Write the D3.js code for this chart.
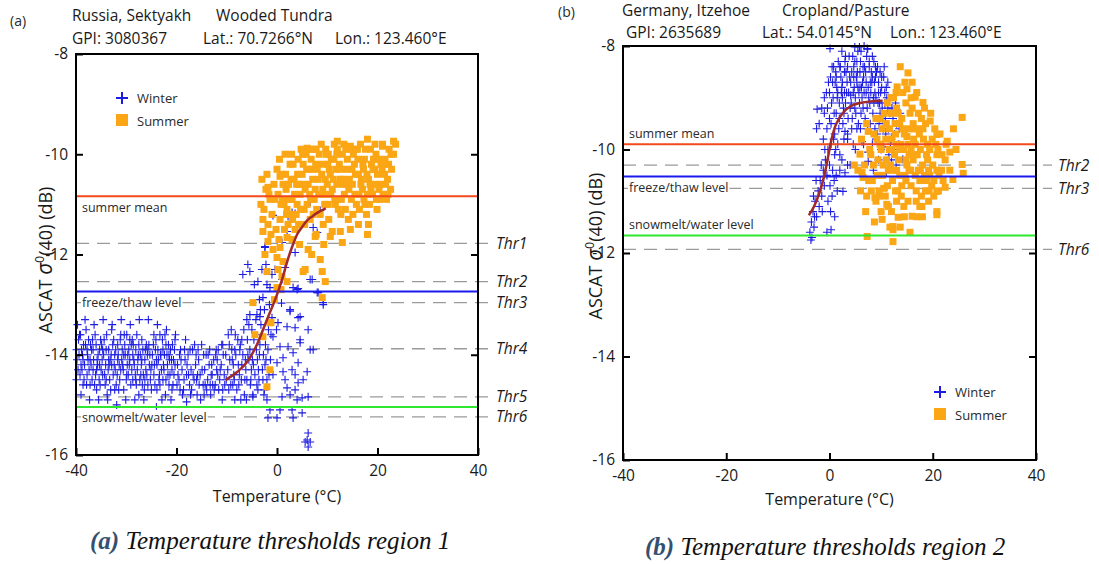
<!DOCTYPE html>
<html>
<head>
<meta charset="utf-8">
<script src="https://cdn.jsdelivr.net/npm/d3@7"></script>
<style>
  body { margin: 0; background: #fff; }
  svg { display: block; font-family: "Open Sans", "Noto Sans", sans-serif; }
</style>
</head>
<body>
<svg id="chart" width="1099" height="564"></svg>
<script>
// ---- data ----
const xTicks = [-40, -20, 0, 20, 40];
const yTicks = [-8, -10, -12, -14, -16];
const levelNames = ["summer mean", "freeze/thaw level", "snowmelt/water level"];
const seriesNames = ["Winter", "Summer"];

const headerA = ["Russia, Sektyakh", "Wooded Tundra", "GPI: 3080367", "Lat.: 70.7266°N", "Lon.: 123.460°E"];
const headerB = ["Germany, Itzehoe", "Cropland/Pasture", "GPI: 2635689", "Lat.: 54.0145°N", "Lon.: 123.460°E"];

const levelValuesA = [-10.84, -12.74, -15.04];
const thrNamesA = ["Thr1", "Thr2", "Thr3", "Thr4", "Thr5", "Thr6"];
const thrValuesA = [-11.78, -12.54, -12.96, -13.88, -14.84, -15.24];

const levelValuesB = [-9.90, -10.52, -11.66];
const thrNamesB = ["Thr2", "Thr3", "Thr6"];
const thrValuesB = [-10.30, -10.75, -11.93];

// fitted curves [temperature, sigma]
const curveA = [[-10.2,-14.5],[-8,-14.35],[-6,-14.15],[-4,-13.8],[-2,-13.3],[0,-12.8],[1,-12.5],[2,-12.15],[3,-11.85],[4,-11.6],[5,-11.45],[6,-11.32],[7,-11.24],[8,-11.17],[9.7,-11.08]];
const curveB = [[-4,-11.27],[-3,-11.1],[-2,-10.85],[-1,-10.5],[0,-10.0],[0.5,-9.76],[1,-9.58],[2,-9.38],[3,-9.25],[4,-9.17],[6,-9.1],[8,-9.07],[10.3,-9.06]];

// scatter [temperature, sigma]
const winterA = [
[-39.8,-14.1],[-39.5,-13.7],[-39.2,-14.4],[-38.9,-13.9],[-38.6,-14.6],[-38.3,-14.2],[-38.0,-13.5],[-37.7,-14.0],[-37.4,-14.3],[-37.1,-13.8],[-36.8,-14.5],[-36.5,-14.1],[-36.2,-13.6],[-35.9,-14.7],[-35.6,-14.0],[-35.3,-13.9],[-35.0,-14.3],[-34.7,-14.4],[-34.4,-13.7],[-34.1,-14.2],[-33.8,-14.8],[-33.5,-13.9],[-33.2,-14.1],[-32.9,-13.5],[-32.6,-14.4],[-32.3,-14.0],[-32.0,-14.6],[-31.7,-13.8],[-31.4,-14.2],[-31.1,-14.3],[-30.8,-13.9],[-30.5,-14.7],[-30.2,-14.0],[-29.9,-13.6],[-29.6,-14.4],[-29.3,-14.1],[-29.0,-13.8],[-28.7,-14.5],[-28.4,-14.2],[-28.1,-13.9],[-27.8,-14.3],[-27.5,-14.8],[-27.2,-14.0],[-26.9,-13.7],[-26.6,-14.4],[-26.3,-14.1],[-26.0,-13.8],[-25.7,-14.6],[-25.4,-14.2],[-25.6,-13.3],[-24.8,-14.0],[-24.5,-14.4],[-24.2,-13.9],[-23.9,-14.7],[-23.6,-14.1],[-23.3,-13.6],[-23.0,-14.3],[-22.7,-14.5],[-22.4,-14.0],[-22.1,-13.8],[-21.8,-14.2],[-21.5,-14.6],[-21.2,-13.9],[-20.9,-14.3],[-20.6,-14.1],[-20.3,-13.7],
[-39.9,-13.9],[-39.6,-14.3],[-39.3,-13.6],[-39.0,-14.2],[-38.7,-14.0],[-38.4,-14.5],[-38.1,-13.8],[-37.8,-14.4],[-37.5,-13.7],[-37.2,-14.1],[-36.9,-13.9],[-36.6,-14.3],[-36.3,-14.6],[-36.0,-13.8],[-35.7,-14.2],[-35.4,-14.5],[-35.1,-13.7],[-34.8,-14.1],[-34.5,-14.0],[-34.2,-14.6],[-33.9,-13.6],[-33.6,-14.3],[-33.3,-14.5],[-33.0,-14.0],[-32.7,-13.8],[-32.4,-14.2],[-32.1,-13.9],[-31.8,-14.4],[-31.5,-14.7],[-31.2,-13.7],[-30.9,-14.1],[-30.6,-14.3],[-30.3,-13.8],[-30.0,-14.5],[-29.7,-14.0],[-29.4,-14.2],[-29.1,-14.6],[-28.8,-13.7],[-28.5,-14.1],[-28.2,-14.4],[-27.9,-13.6],[-27.6,-14.0],[-27.3,-14.5],[-27.0,-14.2],[-26.7,-13.9],[-26.4,-14.7],[-26.1,-14.3],[-25.8,-14.0],[-25.5,-13.8],[-25.2,-14.5],[-24.9,-14.2],[-24.6,-13.8],[-24.3,-14.6],[-24.0,-14.1],[-23.7,-13.9],[-23.4,-14.4],[-23.1,-14.0],[-22.8,-13.7],[-22.5,-14.3],[-22.2,-14.8],[-21.9,-14.0],[-21.6,-13.8],[-21.3,-14.4],[-21.0,-14.1],[-20.7,-14.6],[-20.4,-13.9],
[-39.4,-14.0],[-38.8,-14.3],[-38.5,-13.8],[-37.9,-14.6],[-37.6,-14.1],[-37.0,-14.2],[-36.7,-13.7],[-36.1,-14.4],[-35.8,-14.1],[-35.2,-14.6],[-34.9,-13.8],[-34.3,-14.4],[-34.0,-13.9],[-33.4,-14.2],[-33.1,-14.7],[-32.5,-13.7],[-32.2,-14.3],[-31.6,-14.0],[-31.3,-14.5],[-30.7,-14.2],[-30.4,-13.6],[-29.8,-14.2],[-29.5,-13.9],[-28.9,-14.3],[-28.6,-13.8],[-28.0,-14.6],[-27.7,-14.1],[-27.1,-14.4],[-26.8,-14.6],[-26.2,-13.9],[-25.9,-14.4],[-25.3,-14.0],[-25.0,-14.7],[-24.4,-14.2],[-24.1,-13.7],[-23.5,-14.5],[-23.2,-14.0],[-22.6,-14.2],[-22.3,-13.6],[-21.7,-14.4],[-21.4,-14.1],[-20.8,-13.8],[-20.5,-14.4],
[-39.9,-14.5],[-39.1,-13.6],[-38.6,-14.1],[-37.8,-13.9],[-37.2,-14.6],[-36.6,-13.9],[-35.9,-14.3],[-35.3,-14.2],[-34.7,-13.9],[-34.0,-14.5],[-33.5,-14.1],[-32.9,-14.2],[-32.3,-14.7],[-31.7,-14.1],[-31.1,-13.6],[-30.5,-14.0],[-29.9,-14.4],[-29.3,-13.7],[-28.7,-14.0],[-28.1,-14.5],[-27.5,-13.8],[-26.9,-14.1],[-26.3,-14.5],[-25.7,-13.9],[-25.1,-14.3],[-24.5,-13.6],[-23.9,-14.2],[-23.3,-14.6],[-22.7,-13.9],[-22.1,-14.5],[-21.5,-14.0],[-20.9,-14.7],[-20.3,-14.2],
[-39.7,-13.4],[-39.0,-14.8],[-38.2,-13.3],[-37.3,-14.9],[-36.4,-13.4],[-35.5,-14.9],[-34.6,-13.3],[-33.7,-14.9],[-32.8,-13.4],[-31.9,-15.0],[-31.0,-13.3],[-30.1,-14.9],[-29.2,-13.4],[-28.3,-14.9],[-27.4,-13.3],[-26.5,-14.9],[-23.8,-13.4],[-22.9,-14.9],[-22.0,-13.5],[-21.1,-14.9],[-20.2,-13.6],[-24.0,-15.04],[-18.0,-14.94],
[-19.8,-14.2],[-19.5,-14.5],[-19.2,-13.9],[-18.9,-14.3],[-18.6,-14.7],[-18.3,-14.1],[-18.0,-14.4],[-17.7,-14.0],[-17.4,-14.6],[-17.1,-14.3],[-16.8,-13.9],[-16.5,-14.5],[-16.2,-14.2],[-15.9,-14.8],[-15.6,-14.1],[-15.3,-14.4],[-15.0,-13.8],[-14.7,-14.6],[-14.4,-14.3],[-14.1,-14.0],[-13.8,-14.5],[-13.5,-14.2],[-13.2,-14.8],[-12.9,-14.4],[-12.6,-14.1],[-12.3,-14.6],[-12.0,-14.3],[-11.7,-13.9],[-11.4,-14.5],[-11.1,-14.2],[-10.8,-14.7],[-10.5,-14.4],[-10.2,-14.0],
[-19.9,-14.6],[-19.4,-14.0],[-18.8,-14.8],[-18.2,-13.7],[-17.6,-14.4],[-17.0,-14.7],[-16.4,-13.8],[-15.8,-14.4],[-15.2,-14.9],[-14.6,-14.0],[-14.0,-14.7],[-13.4,-13.9],[-12.8,-14.6],[-12.2,-14.0],[-11.6,-14.7],[-11.0,-13.8],[-10.4,-14.6],[-16.0,-14.5],[-13.0,-14.2],[-11.8,-14.4],
[-19.7,-14.4],[-19.1,-14.1],[-18.5,-14.5],[-17.9,-14.2],[-17.3,-13.9],[-16.7,-14.4],[-16.1,-14.0],[-15.5,-14.6],[-14.9,-14.3],[-14.3,-14.6],[-13.7,-14.0],[-13.1,-14.4],[-12.5,-14.7],[-11.9,-14.1],[-11.3,-14.3],[-10.7,-14.0],[-10.1,-14.5],[-19.3,-14.7],[-18.4,-13.9],[-17.2,-14.8],[-15.7,-13.9],[-14.5,-14.8],[-13.3,-14.6],[-12.1,-13.9],[-10.9,-14.9],
[-9.8,-14.3],[-9.5,-13.8],[-9.2,-14.6],[-8.9,-14.1],[-8.6,-14.4],[-8.3,-13.6],[-8.0,-14.7],[-7.7,-14.2],[-7.4,-13.9],[-7.1,-14.5],[-6.8,-14.0],[-6.5,-14.8],[-6.2,-14.3],[-5.9,-13.7],[-5.6,-14.1],[-5.3,-14.6],[-5.0,-13.5],[-4.7,-14.2],[-4.4,-14.4],[-4.1,-13.9],[-3.8,-14.7],[-3.5,-14.0],[-3.2,-13.4],[-2.9,-14.3],[-2.6,-14.8],[-2.3,-13.8],[-2.0,-14.5],
[-9.6,-14.7],[-9.0,-13.9],[-8.4,-14.9],[-7.8,-13.7],[-7.2,-14.9],[-6.6,-13.5],[-6.0,-14.5],[-5.4,-13.9],[-4.8,-14.8],[-4.2,-13.3],[-3.6,-14.5],[-3.0,-13.6],[-2.4,-14.2],[-1.8,-13.9],[-7.5,-14.4],[-6.3,-14.1],[-5.1,-14.3],[-3.9,-14.1],[-2.7,-14.0],[-8.7,-14.2],
[-9.4,-14.1],[-8.8,-14.6],[-8.2,-14.0],[-7.6,-14.6],[-7.0,-14.2],[-6.4,-14.5],[-5.8,-14.0],[-5.2,-14.5],[-4.6,-13.7],[-4.0,-14.6],[-3.4,-13.8],[-2.8,-14.5],[-2.2,-14.1],[-1.6,-14.4],[-1.2,-13.6],[-9.7,-13.6],[-8.5,-14.5],[-7.3,-13.8],[-6.1,-14.9],[-4.9,-14.1],[-3.7,-14.3],[-2.5,-14.7],[-1.3,-14.1],[-9.1,-13.5],[-5.6,-13.4],[-3.3,-13.1],[-1.7,-13.5],
[-10.8,-13.8],[-7.0,-13.7],[-8.4,-13.9],[-4.0,-13.2],[-3.5,-12.9],[-2.5,-13.1],[-2.0,-12.6],[-1.5,-13.0],[-3.0,-12.3],[-4.5,-12.6],[-1.0,-12.4],[-2.2,-12.2],[-5.8,-12.2],[-6.8,-12.4],[-2.4,-11.84],
[0.9,-12.97],[2.6,-13.13],[4.2,-13.26],[6.2,-13.5],[-0.1,-13.5],[-0.8,-13.64],[4.6,-13.7],[6.6,-13.9],[3.2,-13.96],[1.2,-14.06],[6.0,-14.34],[3.0,-14.3],[1.6,-14.5],[5.2,-14.5],[4.2,-14.56],[2.0,-14.66],[3.6,-14.7],[6.2,-14.84],[5.0,-14.86],[-2.0,-14.9],[-1.4,-15.1],[0.6,-15.1],[3.0,-15.1],[5.0,-15.16],[-1.8,-15.26],[0.0,-15.26],[3.2,-15.26],[6.2,-15.56],[6.0,-15.7],[6.6,-15.74],[6.2,-15.84],[5.6,-15.74],
[0.2,-13.36],[-1.0,-13.26],[-3.4,-13.24],[-5.4,-13.2],[-6.0,-13.3],[2.0,-13.44],[3.6,-13.46],[0.6,-13.84],[2.2,-13.84],[0.0,-14.16],[4.2,-14.16],[1.2,-14.34],[-0.8,-14.4],[3.6,-14.4],[2.6,-14.8],[4.0,-14.9],[1.0,-14.84],[-4.8,-14.84],
[7.2,-13.9],[4.6,-13.76],[9.2,-13.0],[8.0,-12.76],[6.6,-12.5],[4.2,-12.68],
[1.6,-10.94],[6.6,-10.96],[8.6,-11.12],[-0.8,-11.22],[3.0,-11.16],[3.6,-11.18],[2.2,-11.24],[2.0,-11.54],[7.2,-11.46],[8.0,-11.56],[1.0,-11.76],[-2.4,-11.86],[3.6,-11.96],[-0.4,-12.3],[1.6,-12.26],[7.0,-12.5],[1.0,-12.5],[3.2,-12.66],[4.0,-12.7],[8.2,-12.76],[9.2,-12.96],[2.6,-13.1],[4.6,-13.24],[-3.8,-12.54],[-2.8,-12.86],[-5.4,-12.34],[-1.4,-12.66]
];

const summerA = [
[-3.0,-10.5],[-2.6,-11.1],[-2.2,-10.7],[-1.8,-11.4],[-1.4,-10.9],[-1.0,-11.2],[-0.6,-10.6],[-0.2,-11.5],[0.2,-10.8],[0.6,-11.3],[1.0,-10.4],[1.4,-11.0],[1.8,-10.7],[2.2,-11.4],[2.6,-10.2],[3.0,-10.9],[3.4,-10.5],[3.8,-11.2],[4.2,-10.1],[4.6,-10.8],[5.0,-10.4],[5.4,-11.1],[5.8,-10.0],[6.2,-10.6],[6.6,-11.3],[7.0,-10.3],[7.4,-10.9],[7.8,-9.9],[8.2,-10.5],[8.6,-11.2],[9.0,-10.2],[9.4,-10.8],[9.8,-10.0],[10.2,-11.0],[10.6,-10.4],[11.0,-10.7],[11.4,-9.8],[11.8,-10.3],[12.2,-11.1],[12.6,-10.5],[13.0,-10.0],[13.4,-10.8],[13.8,-10.3],[14.2,-11.3],[14.6,-9.9],[15.0,-10.6],[15.4,-10.2],[15.8,-11.0],[16.2,-10.4],[16.6,-9.8],[17.0,-10.7],[17.4,-10.1],[17.8,-11.2],[18.2,-10.5],[18.6,-9.9],[19.0,-10.8],[19.4,-10.3],[19.8,-10.9],[20.2,-10.1],[20.6,-10.6],[21.0,-9.8],[21.4,-10.4],[21.8,-10.9],[22.2,-10.2],[22.6,-10.7],[23.2,-10.0],[23.6,-9.8],
[-2.8,-11.3],[-2.0,-10.4],[-1.2,-11.6],[-0.4,-10.9],[0.4,-11.7],[1.2,-10.6],[2.0,-11.1],[2.8,-10.5],[3.6,-11.5],[4.4,-10.6],[5.2,-10.2],[6.0,-11.0],[6.8,-10.1],[7.6,-10.7],[8.4,-10.0],[9.2,-11.4],[10.0,-10.6],[10.8,-10.1],[11.6,-11.0],[12.4,-10.2],[13.2,-10.6],[14.0,-10.1],[14.8,-10.9],[15.6,-10.4],[16.4,-11.1],[17.2,-10.3],[18.0,-10.8],[18.8,-10.2],[19.6,-10.6],[20.4,-10.9],[21.2,-10.2],[22.0,-10.5],[22.8,-10.3],[16.0,-9.9],[12.0,-9.9],[8.0,-10.3],
[-1.6,-10.8],[0.0,-10.3],[1.6,-10.0],[3.2,-10.2],[4.8,-9.9],[6.4,-10.3],[8.8,-9.8],[10.4,-10.3],[12.8,-10.9],[14.4,-10.5],[16.8,-10.5],[18.4,-11.0],[20.0,-10.4],[21.6,-10.6],[7.2,-11.2],[5.6,-10.7],[4.0,-11.0],[2.4,-10.9],[11.2,-10.5],[13.6,-11.1],[15.2,-10.0],[17.6,-9.9],[19.2,-10.1],[9.6,-10.5],[6.8,-9.9],[3.0,-11.7],
[0.5,-10.1],[1.1,-10.9],[1.7,-10.4],[2.3,-10.6],[2.9,-10.0],[3.5,-10.8],[4.1,-10.4],[4.7,-11.1],[5.3,-10.6],[5.9,-10.3],[6.5,-10.8],[7.1,-10.5],[7.7,-10.2],[8.3,-10.8],[8.9,-10.4],[9.5,-11.0],[10.1,-10.2],[10.7,-10.8],[11.3,-10.1],[11.9,-10.6],[12.5,-10.3],[13.1,-10.5],[13.7,-9.9],[14.3,-10.7],[14.9,-10.3],[15.5,-10.8],[16.1,-10.1],[16.7,-10.6],[17.3,-10.9],[17.9,-10.4],[18.5,-10.6],[19.1,-10.3],[19.7,-10.0],[20.3,-10.7],[20.9,-10.3],[21.5,-10.1],[22.1,-10.8],[22.7,-10.0],
[0.8,-11.0],[1.9,-11.2],[3.1,-11.3],[4.3,-11.4],[5.5,-11.4],[6.7,-10.9],[7.9,-11.1],[9.1,-10.7],[10.3,-11.3],[11.5,-10.9],[12.7,-11.2],[13.9,-10.6],[15.1,-11.2],[16.3,-10.8],[17.5,-11.0],[18.7,-10.7],[19.9,-11.1],[21.1,-10.8],[9.7,-9.9],[11.9,-10.0],[13.3,-9.8],[15.7,-9.9],[17.1,-10.2],[19.5,-9.8],[22.3,-9.9],[20.7,-10.2],[5.1,-10.0],[3.9,-10.6],[2.5,-11.2],[1.5,-11.5],[-0.8,-11.9],[0.2,-12.3],[-0.5,-12.9],[0.8,-12.7],[-2.4,-12.0],[-3.2,-11.0],[7.8,-11.6],[9.3,-11.8],[14.6,-11.5],[4.5,-11.8],[6.9,-12.0],
[7.2,-9.9],[6.0,-9.88],[18.0,-9.7],[23.2,-9.74],[12.0,-9.74],[14.6,-9.84],[21.0,-9.84],[10.2,-10.0],[-1.8,-10.66],[0.6,-10.44],
[-2.8,-11.54],[-1.8,-11.74],[0.6,-11.86],[2.0,-11.66],[6.2,-11.9],[8.6,-12.1],[9.0,-12.34],[9.6,-12.54],[9.0,-12.86],[5.2,-12.34],[-2.0,-12.34],[0.0,-12.06],[1.2,-12.14],[1.0,-12.44],[2.0,-12.54],[0.0,-12.66],[10.6,-11.64],[12.6,-11.54],[16.2,-11.4],[18.0,-11.6],[18.2,-11.4],[7.6,-11.64],[11.0,-11.54],[13.0,-11.76],
[-4.8,-12.96],[-1.4,-13.36],[-4.4,-13.6],[-1.4,-14.3],[-2.0,-14.64],[5.6,-12.3],[-2.8,-13.64],[-1.2,-13.36]
];

const winterB = [
[-0.4,-9.2],[0.0,-8.9],[0.3,-9.5],[0.6,-8.7],[0.9,-9.3],[1.2,-8.5],[1.5,-9.0],[1.8,-9.6],[2.1,-8.4],[2.4,-8.8],[2.7,-9.2],[3.0,-8.3],[3.3,-8.9],[3.6,-9.4],[3.9,-8.6],[4.2,-9.1],[4.5,-8.2],[4.8,-8.8],[5.1,-9.3],[5.4,-8.5],[5.7,-8.9],[6.0,-8.3],[6.3,-9.0],[6.6,-8.6],[6.9,-9.4],[7.2,-8.2],[7.5,-8.8],[7.8,-9.1],[8.1,-8.5],[8.4,-9.3],[8.7,-8.7],[9.0,-9.0],[9.3,-8.4],[9.6,-9.5],[9.9,-8.9],[10.2,-9.2],[10.5,-8.6],[10.8,-9.4],[11.1,-9.0],[11.4,-9.6],[11.7,-9.3],[12.0,-9.8],
[-0.2,-8.7],[0.4,-9.1],[0.8,-8.4],[1.0,-9.7],[1.4,-8.8],[1.9,-9.1],[2.2,-8.6],[2.6,-9.5],[2.9,-8.9],[3.2,-8.5],[3.5,-9.7],[3.8,-8.2],[4.1,-8.7],[4.4,-9.4],[4.7,-8.4],[5.0,-9.0],[5.3,-8.7],[5.6,-9.5],[5.9,-8.5],[6.2,-8.8],[6.5,-9.2],[6.8,-8.4],[7.1,-8.9],[7.4,-9.6],[7.7,-8.4],[8.0,-8.9],[8.3,-8.2],[8.6,-9.1],[8.9,-8.6],[9.2,-9.7],[9.5,-8.7],[9.8,-9.3],[10.1,-8.8],[10.4,-9.6],[10.7,-9.1],[11.0,-8.8],[11.3,-9.2],[12.3,-9.4],[12.6,-9.7],[13.0,-9.5],
[1.6,-8.9],[2.5,-9.0],[3.4,-8.7],[4.0,-9.2],[4.6,-8.9],[5.2,-8.6],[5.8,-9.1],[6.4,-8.7],[7.0,-8.5],[7.6,-9.0],[8.2,-8.7],[8.8,-8.9],[9.4,-9.1],[6.1,-8.1],[6.7,-8.0],[5.5,-8.1],[7.3,-8.05],[4.9,-8.3],[3.1,-8.2],[2.0,-8.4],[8.6,-8.3],[9.8,-8.5],[10.6,-8.4],[0.2,-8.6],[1.3,-9.3],[2.8,-9.3],[4.3,-9.6],[6.0,-9.6],[7.9,-9.5],[9.0,-9.8],
[0.5,-8.4],[1.1,-8.7],[1.7,-8.3],[2.3,-8.9],[2.9,-8.5],[3.5,-8.4],[4.1,-8.95],[4.7,-8.6],[5.3,-8.3],[5.9,-8.8],[6.5,-8.4],[7.1,-8.7],[7.7,-8.3],[8.3,-8.6],[8.9,-8.4],[9.5,-8.9],[10.1,-8.6],[10.7,-8.9],[11.3,-8.7],[0.0,-9.4],[0.7,-9.0],[1.3,-8.6],[1.9,-9.4],[2.5,-8.7],[3.1,-9.1],[3.7,-8.9],[4.3,-8.5],[4.9,-9.2],[5.5,-8.8],[6.1,-9.3],[6.7,-8.9],[7.3,-9.2],[7.9,-8.7],[8.5,-9.0],[9.1,-8.5],[9.7,-9.1],[10.3,-9.4],[10.9,-9.7],[11.5,-9.0],[12.1,-9.2],[-1.0,-9.0],[-0.6,-8.9],[-1.5,-9.2],[-2.5,-9.6],
[0.1,-8.05],[2.4,-8.1],[4.9,-8.02],[7.4,-8.06],[5.8,-8.02],
[2.0,-10.1],[3.5,-9.8],[5.0,-10.0],[6.3,-9.85],[7.5,-10.05],[8.3,-9.9],[9.5,-10.2],[10.5,-9.95],[11.5,-10.1],[12.5,-10.0],[13.4,-9.9],[13.7,-9.3],[12.8,-9.1],[12.0,-10.2],[8.5,-10.4],[11.0,-10.45],[4.0,-10.3],[11.1,-10.73],[14.2,-10.19],[2.6,-10.81],[12.3,-10.05],[7.5,-10.23],
[1.2,-10.0],[2.8,-9.8],[4.6,-9.9],[6.6,-9.9],[8.8,-9.6],[10.0,-10.0],[11.8,-9.9],[12.9,-10.3],[13.5,-9.6],[5.3,-9.6],[3.0,-9.65],[0.8,-9.8],
[-3.8,-11.6],[-3.5,-11.4],[-3.2,-11.2],[-3.0,-11.5],[-2.8,-11.0],[-2.5,-11.3],[-2.2,-10.8],[-2.0,-11.1],[-1.8,-10.6],[-1.5,-10.9],[-1.2,-10.4],[-1.0,-10.7],[-0.8,-10.2],[-0.5,-10.5],[-0.3,-10.0],[0.0,-10.3],[0.3,-9.9],[0.6,-10.4],[1.0,-10.1],[1.3,-10.5],[1.6,-9.9],[2.0,-10.4],[2.4,-10.2],[3.0,-10.45],[3.5,-10.3],[0.5,-10.9],[1.5,-10.8],[-2.0,-9.5],[-1.2,-9.8],[0.2,-11.2],[1.0,-11.3],[-3.6,-11.75],[0.3,-11.55],[-1.0,-9.3],[-0.5,-9.6],[-2.4,-9.22],[-0.5,-11.6],
[-0.9,-10.0],[-1.6,-10.3],[-2.6,-10.6],[-3.1,-10.9],[0.9,-10.6],[0.1,-10.7],[-0.3,-11.0],[-1.4,-11.2],[-2.9,-11.3],[-3.4,-11.7]
];

const summerB = [
[13.7,-8.4],[15.2,-8.52],[13.1,-8.79],[16.0,-8.7],[15.0,-8.83],[16.6,-8.99],[18.1,-9.09],[19.5,-9.45],[25.7,-9.38],[20.8,-9.71],[22.8,-9.84],[23.3,-10.05],[25.7,-10.29],[25.9,-10.46],[23.9,-10.58],[22.4,-10.73],[20.8,-10.81],[17.9,-11.1],[20.8,-11.26],[16.0,-11.29],[13.3,-11.31],[11.1,-11.06],[10.2,-11.35],[12.3,-11.49],[12.3,-11.78],[7.3,-11.68],[8.8,-10.93],[6.5,-10.54],[5.9,-10.09],[7.5,-9.65],[9.8,-9.41],[6.3,-10.44],[12.3,-11.55],[17.5,-11.1],[20.8,-11.2],
[8.0,-10.1],[8.6,-9.7],[9.2,-10.5],[9.8,-9.9],[10.4,-10.3],[11.0,-9.5],[11.6,-10.0],[12.2,-10.6],[12.8,-9.7],[13.4,-10.2],[14.0,-9.4],[14.6,-10.5],[15.2,-9.9],[15.8,-10.7],[16.4,-9.6],[17.0,-10.1],[17.6,-10.4],[18.2,-9.8],[18.8,-10.6],[19.4,-10.0],[20.0,-10.3],[20.6,-9.9],[21.2,-10.5],[21.8,-10.1],
[8.3,-10.6],[9.0,-9.4],[9.6,-10.8],[10.2,-9.6],[10.8,-10.9],[11.4,-10.4],[12.0,-9.3],[12.6,-10.1],[13.2,-10.8],[13.8,-9.9],[14.4,-10.0],[15.0,-10.3],[15.6,-9.3],[16.2,-10.2],[16.8,-10.8],[17.4,-9.7],[18.0,-10.3],[18.6,-9.5],[19.2,-10.4],[19.8,-10.7],[20.4,-9.6],[21.0,-10.0],[22.0,-10.6],[22.4,-10.2],
[12.4,-9.0],[13.0,-9.2],[14.2,-8.9],[14.8,-9.1],[13.6,-9.5],[15.4,-9.6],[16.0,-9.2],[17.2,-9.3],[11.2,-9.1],[10.6,-9.3],[18.4,-9.2],[16.6,-9.9],[12.0,-9.8],[11.0,-10.2],[14.0,-10.7],[15.2,-11.0],[13.0,-11.0],[12.0,-11.2],[16.8,-11.0],[18.8,-10.1],[17.8,-10.9],[9.0,-11.0],[10.0,-11.2],[7.2,-10.9],[6.8,-10.3],[7.6,-10.6],[5.5,-10.4],[6.0,-10.8],[4.8,-10.3],[9.4,-10.2],[15.0,-9.75],[19.6,-9.3],[20.2,-10.9],[21.4,-9.7],[18.0,-11.3],[14.5,-11.3],[11.7,-11.5],[10.5,-10.75],
[12.4,-10.4],[13.6,-10.5],[14.8,-10.2],[15.8,-10.0],[16.6,-10.5],[17.6,-10.0],[18.6,-10.8],[19.0,-9.9],[14.2,-9.6],[13.0,-9.9],[16.2,-9.5],[17.0,-9.6],[19.4,-10.5],[20.8,-10.4],[15.4,-10.4],[12.8,-10.8],
[10.0,-10.0],[10.9,-9.8],[11.8,-10.3],[12.7,-9.5],[13.6,-10.0],[14.5,-9.7],[15.4,-10.1],[16.3,-9.8],[17.2,-10.4],[18.1,-9.6],[19.0,-10.2],[19.9,-9.8],[20.8,-10.1],[21.7,-10.4],[22.6,-9.9],[23.3,-10.4],[9.2,-9.8],[8.5,-10.3],[7.8,-10.0],[10.3,-10.5],[11.2,-10.7],[12.1,-10.0],[13.0,-10.4],[13.9,-10.9],[14.8,-10.6],[15.7,-10.4],[16.6,-10.1],[17.5,-10.6],[18.4,-10.5],[19.3,-10.8],[20.2,-10.6],[21.1,-10.8],[11.6,-9.6],[12.9,-8.9],[14.6,-8.7],[15.8,-9.0],[13.3,-9.3],[17.8,-9.4],[16.9,-8.9],[11.9,-9.0],[9.6,-10.9],[8.1,-10.8],[7.0,-11.2],[8.7,-11.4],[11.4,-11.1],[13.7,-11.5],[15.6,-11.6],[16.9,-11.3],[14.4,-11.1],[19.2,-11.0],[6.2,-9.8],[7.2,-9.5],[24.5,-10.0],[24.0,-9.6]
];

// ---- layout ----
const svg = d3.select("#chart");
const COL = { winter: "#1c1ce2", summer: "#fba614", curve: "#a02a2a",
  levels: ["#f24a1c", "#1a1aee", "#2ee82e"], thr: "#9a9a9a", text: "#2a2a2a" };

const panels = [
  { tag: "(a)", tagPos: [10, 26], header: headerA,
    headerPos: [[72, 21], [216, 21], [72, 44], [203, 44], [335, 44]],
    left: 76, right: 478, top: 54, bottom: 455, xTitleY: 502,
    winter: winterA, summer: summerA, curve: curveA,
    levels: levelValuesA, levelDy: [16, 15, 15],
    thrNames: thrNamesA, thrValues: thrValuesA, thrEnd: 490,
    legend: [122, 98], yTitle: [52, 260] },
  { tag: "(b)", tagPos: [558, 17], header: headerB,
    headerPos: [[622, 16], [782, 16], [626, 38], [762, 38], [890, 38]],
    left: 623, right: 1036, top: 46, bottom: 460, xTitleY: 505,
    winter: winterB, summer: summerB, curve: curveB,
    levels: levelValuesB, levelDy: [-6, 16, -6],
    thrNames: thrNamesB, thrValues: thrValuesB, thrEnd: 1052,
    legend: [940, 392], yTitle: [602, 246] }
];

const plusPath = s => `M${-s},0H${s}M0,${-s}V${s}`;

function drawPanel(p) {
  const x = d3.scaleLinear().domain([-40, 40]).range([p.left, p.right]);
  const y = d3.scaleLinear().domain([-8, -16]).range([p.top, p.bottom]);
  const g = svg.append("g");

  // header
  g.append("text").attr("x", p.tagPos[0]).attr("y", p.tagPos[1])
    .style("font-size", "14px").attr("fill", COL.text).text(p.tag);
  g.selectAll(".hdr").data(p.header).join("text")
    .attr("x", (d, i) => p.headerPos[i][0]).attr("y", (d, i) => p.headerPos[i][1])
    .style("font-size", "15.5px").attr("fill", "#1a1a1a").text(d => d);

  // threshold dashes
  const thr = p.thrNames.map((n, i) => ({ name: n, v: p.thrValues[i] }));
  g.selectAll(".thr").data(thr).join("line")
    .attr("x1", p.left).attr("x2", p.thrEnd)
    .attr("y1", d => y(d.v)).attr("y2", d => y(d.v))
    .attr("stroke", COL.thr).attr("stroke-width", 1.3).attr("stroke-dasharray", "13,8");
  g.selectAll(".thrl").data(thr).join("text")
    .attr("x", p.thrEnd + 6).attr("y", d => y(d.v)).attr("dy", "0.36em")
    .style("font-size", "15.5px").style("font-style", "italic").attr("fill", "#1a1a1a")
    .text(d => d.name);

  // scatter
  const pts = g.append("g");
  pts.selectAll(".w").data(p.winter).join("path")
    .attr("d", plusPath(4))
    .attr("transform", d => `translate(${x(d[0])},${y(d[1])})`)
    .attr("stroke", COL.winter).attr("stroke-width", 1.1).attr("fill", "none");
  pts.selectAll(".s").data(p.summer).join("rect")
    .attr("x", d => x(d[0]) - 3.5).attr("y", d => y(d[1]) - 3.5)
    .attr("width", 7).attr("height", 7).attr("fill", COL.summer);

  // level lines with labels
  p.levels.forEach((v, i) => {
    const ly = y(v);
    const t = g.append("text").attr("x", p.left + 6).attr("y", ly + p.levelDy[i])
      .style("font-size", "12.5px").attr("fill", COL.text).text(levelNames[i]);
    const bb = t.node().getBBox();
    g.insert("rect", () => t.node())
      .attr("x", bb.x - 1).attr("y", bb.y + 1).attr("width", bb.width + 2).attr("height", bb.height - 2)
      .attr("fill", "#fff");
    g.append("line").attr("x1", p.left).attr("x2", p.right).attr("y1", ly).attr("y2", ly)
      .attr("stroke", COL.levels[i]).attr("stroke-width", 2);
  });

  // fitted curve
  g.append("path").datum(p.curve)
    .attr("d", d3.line().x(d => x(d[0])).y(d => y(d[1])).curve(d3.curveMonotoneX))
    .attr("fill", "none").attr("stroke", COL.curve).attr("stroke-width", 2.5);

  // axes with inward ticks
  const fmt = d => String(d);
  const ax = [
    g.append("g").attr("transform", `translate(${p.left},0)`)
      .call(d3.axisLeft(y).tickValues(yTicks).tickSize(-7).tickPadding(8).tickFormat(fmt)),
    g.append("g").attr("transform", `translate(${p.right},0)`)
      .call(d3.axisRight(y).tickValues(yTicks.slice(1, -1)).tickSize(-7).tickFormat("")),
    g.append("g").attr("transform", `translate(0,${p.bottom})`)
      .call(d3.axisBottom(x).tickValues(xTicks).tickSize(-7).tickPadding(10).tickFormat(fmt))
  ];
  ax.forEach(a => {
    a.select(".domain").remove();
    a.selectAll("line").attr("stroke", "#000").attr("stroke-width", 2);
    a.selectAll("text").style("font-size", "15.5px").attr("fill", "#1a1a1a")
      .style("font-family", "'Open Sans','Noto Sans',sans-serif");
  });

  // frame
  g.append("rect").attr("x", p.left).attr("y", p.top)
    .attr("width", p.right - p.left).attr("height", p.bottom - p.top)
    .attr("fill", "none").attr("stroke", "#000").attr("stroke-width", 2);

  // axis titles
  g.append("text").attr("x", (p.left + p.right) / 2).attr("y", p.xTitleY)
    .attr("text-anchor", "middle").style("font-size", "16px").attr("fill", "#1a1a1a")
    .text("Temperature (°C)");
  const yt = g.append("text")
    .attr("transform", `translate(${p.yTitle[0]},${p.yTitle[1]}) rotate(-90)`)
    .attr("text-anchor", "middle").style("font-size", "18px").attr("fill", "#1a1a1a");
  yt.append("tspan").text("ASCAT ");
  yt.append("tspan").style("font-style", "italic").style("font-size", "21px").text("σ");
  yt.append("tspan").attr("dy", -8).style("font-size", "12px").text("0");
  yt.append("tspan").attr("dy", 8).text("(40) (dB)");

  // legend
  const [lx, ly] = p.legend;
  g.append("path").attr("d", plusPath(6)).attr("transform", `translate(${lx},${ly})`)
    .attr("stroke", COL.winter).attr("stroke-width", 2);
  g.append("rect").attr("x", lx - 6).attr("y", ly + 16).attr("width", 12).attr("height", 12)
    .attr("fill", COL.summer);
  g.selectAll(".lg").data(seriesNames).join("text")
    .attr("x", lx + 15).attr("y", (d, i) => ly + 5 + i * 23)
    .style("font-size", "13px").attr("fill", COL.text).text(d => d);
}

panels.forEach(drawPanel);

// captions
const captions = [["(a)", " Temperature thresholds region 1"], ["(b)", " Temperature thresholds region 2"]];
const capPos = [[90, 549], [645, 555]];
captions.forEach((c, i) => {
  const t = svg.append("text").attr("x", capPos[i][0]).attr("y", capPos[i][1])
    .style("font-family", "'Liberation Serif','DejaVu Serif',serif")
    .style("font-style", "italic").style("font-size", "25px");
  t.append("tspan").style("font-weight", "bold").attr("fill", "#34506e").text(c[0]);
  t.append("tspan").attr("fill", "#111").text(c[1]);
});
</script>
</body>
</html>
